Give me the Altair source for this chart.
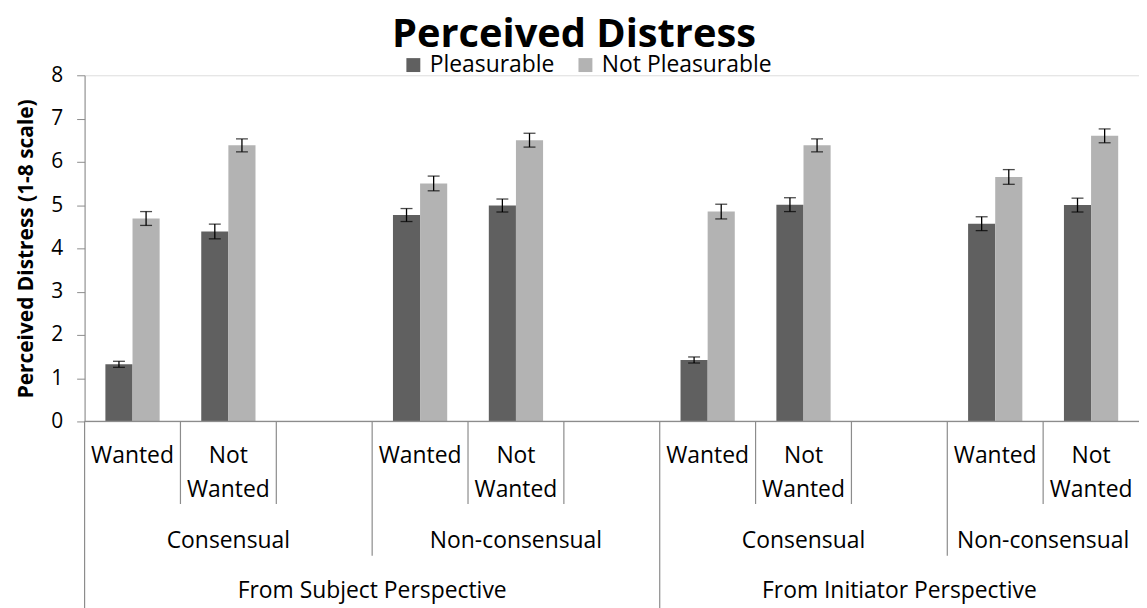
import altair as alt
import pandas as pd

# ---------------- data ----------------
perspectives = ["From Subject Perspective", "From Initiator Perspective"]
consents = ["Consensual", "Non-consensual"]
wanted_levels = ["Wanted", "Not\nWanted"]
series = ["Pleasurable", "Not Pleasurable"]

# order: Subj-Cons-W, Subj-Cons-NW, Subj-Non-W, Subj-Non-NW, Init-Cons-W, Init-Cons-NW, Init-Non-W, Init-Non-NW
pleasurable = [1.32, 4.39, 4.77, 4.99, 1.42, 5.01, 4.57, 5.00]
pleasurable_err = [0.07, 0.17, 0.15, 0.15, 0.07, 0.16, 0.16, 0.16]
not_pleasurable = [4.69, 6.38, 5.50, 6.50, 4.85, 6.38, 5.65, 6.60]
not_pleasurable_err = [0.16, 0.15, 0.17, 0.16, 0.17, 0.15, 0.17, 0.16]

y_ticks = [0, 1, 2, 3, 4, 5, 6, 7, 8]
colors = ["#606060", "#b3b3b3"]

# ---------------- style ----------------
FONT = "Open Sans"
GRAY = "#8c8c8c"
W, H = 1060, 348
BW = 0.283  # bar width as fraction of a category slot

values_by_series = [pleasurable, not_pleasurable]
errs_by_series = [pleasurable_err, not_pleasurable_err]

bar_rows, lvl1, lvl2, lvl3 = [], [], [], []
p_starts, c_starts = set(), set()
s = 0
k = 0
for pi, p in enumerate(perspectives):
    p_start = s
    p_starts.add(s)
    for ci, c in enumerate(consents):
        c_start = s
        c_starts.add(s)
        for w in wanted_levels:
            lvl1.append({"pos": s + 0.5, "label": w})
            for si, name in enumerate(series):
                v = values_by_series[si][k]
                e = errs_by_series[si][k]
                x0 = s + 0.5 - BW if si == 0 else s + 0.5
                bar_rows.append({
                    "series": name, "value": v,
                    "lo": v - e, "hi": v + e,
                    "x0": x0, "x1": x0 + BW, "xc": x0 + BW / 2,
                })
            s += 1
            k += 1
        last = (pi == len(perspectives) - 1) and (ci == len(consents) - 1)
        if not last:
            s += 1  # empty slot after each consent group
        lvl2.append({"pos": (c_start + s) / 2, "label": c})
    lvl3.append({"pos": (p_start + s) / 2, "label": p})
n_slots = s

sep_rows = []
for b in range(n_slots):
    level = 3 if b in p_starts else (2 if b in c_starts else 1)
    sep_rows.append({"pos": b, "level": level})

bars_df = pd.DataFrame(bar_rows)
lvl1_df = pd.DataFrame(lvl1)
lvl2_df = pd.DataFrame(lvl2)
lvl3_df = pd.DataFrame(lvl3)
sep_df = pd.DataFrame(sep_rows)

x_scale = alt.Scale(domain=[0, n_slots], nice=False, zero=False)
y_scale = alt.Scale(domain=[0, 8], nice=False)

bars = alt.Chart(bars_df).mark_bar().encode(
    x=alt.X("x0:Q", scale=x_scale, axis=None),
    x2="x1:Q",
    y=alt.Y(
        "value:Q", scale=y_scale, title="Perceived Distress (1-8 scale)",
        axis=alt.Axis(
            values=y_ticks, grid=False, domainColor=GRAY, tickColor=GRAY,
            tickSize=8, labelPadding=14, labelFontSize=21, labelFont=FONT,
            labelColor="black", titleFont=FONT, titleFontSize=21,
            titleFontWeight="bold", titleColor="black", titlePadding=14,
        ),
    ),
    y2=alt.datum(0),
    color=alt.Color(
        "series:N", scale=alt.Scale(domain=series, range=colors),
        legend=alt.Legend(
            orient="none", legendX=319, legendY=-22, direction="horizontal",
            title=None, symbolType="square", symbolSize=196, symbolStrokeWidth=0,
            labelFontSize=23, labelFont=FONT, labelColor="black", labelLimit=400,
            columnPadding=19, labelOffset=5,
        ),
    ),
)

err_rule = alt.Chart(bars_df).mark_rule(color="black", strokeWidth=1.3).encode(
    x=alt.X("xc:Q", scale=x_scale, axis=None),
    y=alt.Y("lo:Q", scale=y_scale),
    y2="hi:Q",
)

caps = alt.Chart(bars_df).transform_fold(["lo", "hi"], as_=["end", "yv"]).mark_tick(
    orient="horizontal", size=12, thickness=1.3, color="black"
).encode(
    x=alt.X("xc:Q", scale=x_scale, axis=None),
    y=alt.Y("yv:Q", scale=y_scale),
)

baseline = alt.Chart(pd.DataFrame({"v": [0]})).mark_rule(color=GRAY, strokeWidth=1.3).encode(
    y=alt.Y("v:Q", scale=y_scale),
    x=alt.value(0),
    x2=alt.value(W),
)

sep_layers = []
for level, length in [(1, 83), (2, 135), (3, 200)]:
    sep_layers.append(
        alt.Chart(sep_df[sep_df.level == level]).mark_rule(color=GRAY, strokeWidth=1.2).encode(
            x=alt.X("pos:Q", scale=x_scale, axis=None),
            y=alt.value(H),
            y2=alt.value(H + length),
        )
    )

def text_row(df, dy):
    return alt.Chart(df).mark_text(
        font=FONT, fontSize=23, color="black", baseline="alphabetic",
        lineBreak="\n", lineHeight=33.5,
    ).encode(
        x=alt.X("pos:Q", scale=x_scale, axis=None),
        y=alt.value(H + dy),
        text="label:N",
    )

rows = [text_row(lvl1_df, 42), text_row(lvl2_df, 127), text_row(lvl3_df, 178)]

chart = alt.layer(bars, err_rule, caps, baseline, *sep_layers, *rows).properties(
    width=W,
    height=H,
    title=alt.TitleParams(
        "Perceived Distress", font=FONT, fontSize=40, fontWeight="bold",
        color="black", anchor="middle", dx=-38, dy=6,
    ),
    padding={"left": 77, "top": 66, "right": 0, "bottom": 200},
    autosize=alt.AutoSizeParams(type="none"),
).configure_view(stroke=None).configure(background="white")

chart.save("out.html", embed_options={"renderer": "svg", "actions": False})
